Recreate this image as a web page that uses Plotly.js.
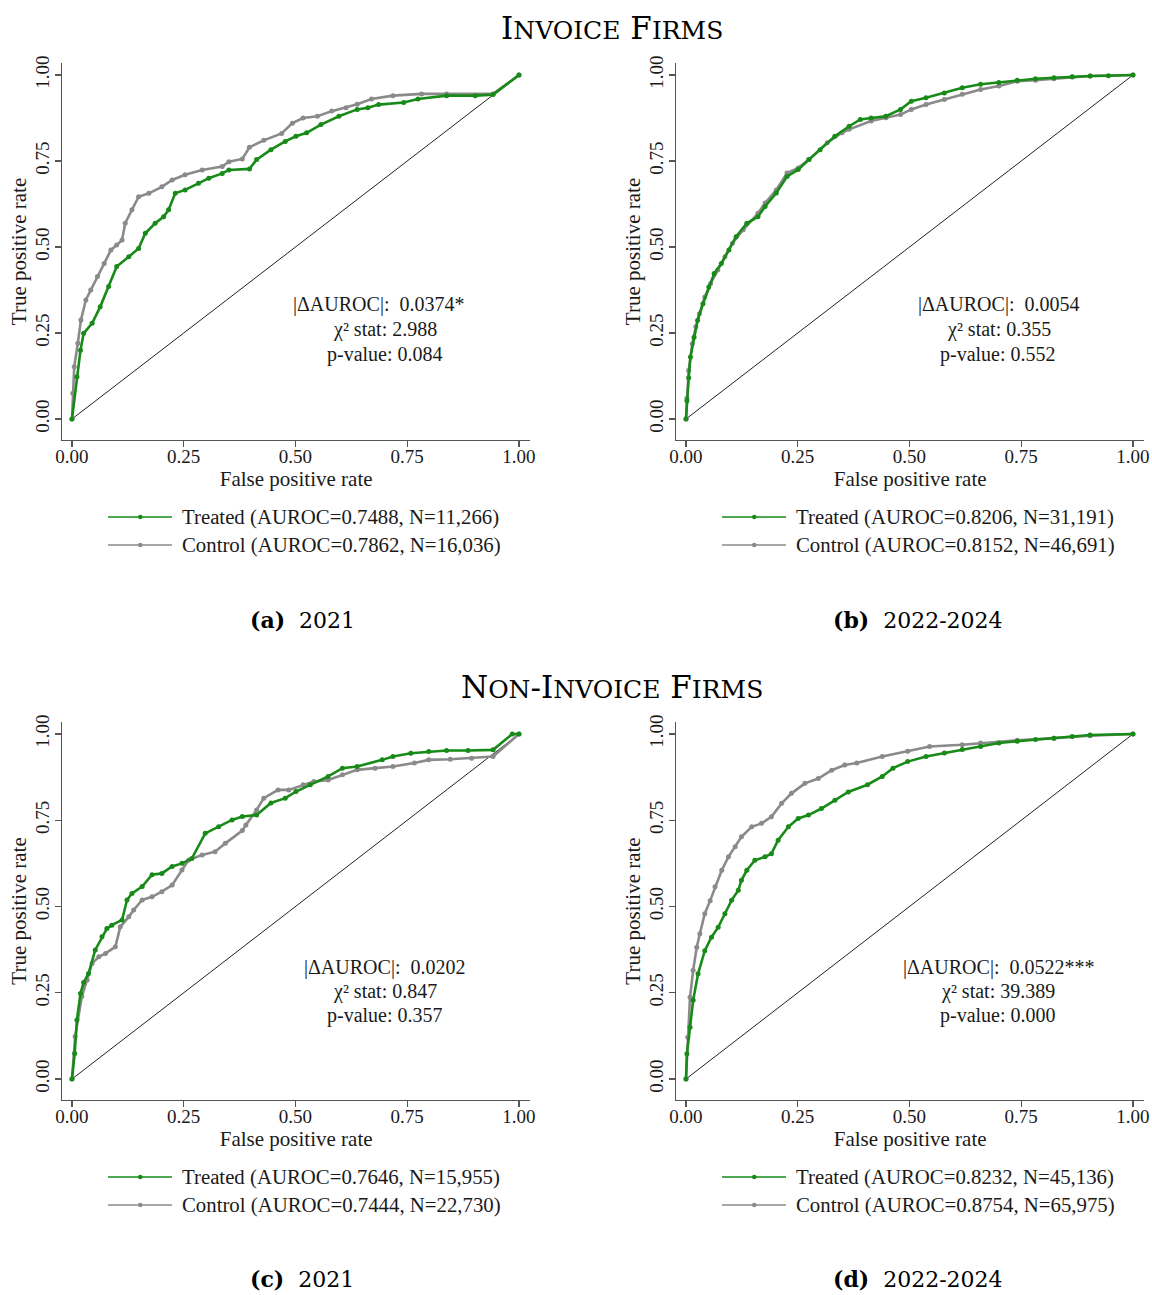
<!DOCTYPE html>
<html>
<head>
<meta charset="utf-8">
<script src="https://cdn.plot.ly/plotly-3.0.1.min.js"></script>
<style>
  html, body { margin: 0; padding: 0; background: #fff; }
  #chart { width: 1152px; height: 1295px; }
</style>
</head>
<body>
<div id="chart"></div>
<script>
// ROC curves: treated vs control firms, by invoice status and period.

// (a) Invoice firms, 2021
const aTreatedFPR = [0, 0.011, 0.019, 0.026, 0.045, 0.063, 0.082, 0.1, 0.127, 0.149, 0.164, 0.186, 0.205, 0.216, 0.231, 0.253, 0.283, 0.306, 0.336, 0.351, 0.397, 0.413, 0.445, 0.477, 0.501, 0.525, 0.557, 0.597, 0.638, 0.662, 0.686, 0.742, 0.774, 0.838, 0.902, 0.942, 1];
const aTreatedTPR = [0, 0.123, 0.2, 0.249, 0.278, 0.326, 0.385, 0.443, 0.472, 0.496, 0.54, 0.569, 0.588, 0.608, 0.656, 0.666, 0.685, 0.7, 0.714, 0.724, 0.727, 0.754, 0.783, 0.807, 0.822, 0.832, 0.856, 0.88, 0.9, 0.905, 0.914, 0.92, 0.93, 0.94, 0.94, 0.943, 1];
const aControlFPR = [0, 0.002, 0.005, 0.013, 0.02, 0.031, 0.042, 0.057, 0.072, 0.087, 0.1, 0.112, 0.119, 0.134, 0.149, 0.172, 0.201, 0.224, 0.253, 0.291, 0.336, 0.351, 0.381, 0.397, 0.429, 0.469, 0.493, 0.517, 0.549, 0.581, 0.613, 0.638, 0.67, 0.718, 0.782, 0.838, 0.942, 1];
const aControlTPR = [0, 0.075, 0.152, 0.22, 0.288, 0.346, 0.375, 0.414, 0.452, 0.491, 0.506, 0.52, 0.569, 0.608, 0.646, 0.656, 0.675, 0.695, 0.71, 0.724, 0.734, 0.748, 0.756, 0.79, 0.81, 0.83, 0.86, 0.875, 0.88, 0.895, 0.905, 0.915, 0.93, 0.94, 0.945, 0.945, 0.945, 1];

// (b) Invoice firms, 2022-2024
const bTreatedFPR = [0, 0.002, 0.006, 0.01, 0.018, 0.026, 0.038, 0.051, 0.063, 0.079, 0.096, 0.112, 0.136, 0.161, 0.177, 0.202, 0.226, 0.251, 0.275, 0.3, 0.333, 0.365, 0.39, 0.414, 0.447, 0.48, 0.504, 0.537, 0.578, 0.618, 0.659, 0.7, 0.741, 0.782, 0.823, 0.864, 0.904, 0.945, 1];
const bTreatedTPR = [0, 0.053, 0.12, 0.18, 0.238, 0.287, 0.335, 0.384, 0.423, 0.452, 0.491, 0.53, 0.569, 0.588, 0.618, 0.657, 0.705, 0.725, 0.754, 0.783, 0.822, 0.851, 0.871, 0.875, 0.88, 0.9, 0.924, 0.934, 0.948, 0.963, 0.973, 0.978, 0.985, 0.989, 0.992, 0.995, 0.997, 0.998, 1];
const bControlFPR = [0, 0.002, 0.006, 0.014, 0.022, 0.03, 0.042, 0.055, 0.071, 0.087, 0.104, 0.128, 0.161, 0.177, 0.202, 0.226, 0.251, 0.275, 0.316, 0.349, 0.365, 0.414, 0.447, 0.48, 0.504, 0.537, 0.578, 0.618, 0.659, 0.7, 0.741, 0.782, 0.823, 0.864, 0.904, 1];
const bControlTPR = [0, 0.06, 0.141, 0.219, 0.268, 0.306, 0.355, 0.394, 0.433, 0.472, 0.511, 0.55, 0.598, 0.628, 0.666, 0.715, 0.73, 0.754, 0.803, 0.832, 0.842, 0.866, 0.876, 0.885, 0.9, 0.914, 0.929, 0.944, 0.958, 0.968, 0.982, 0.985, 0.989, 0.994, 0.997, 1];

// (c) Non-invoice firms, 2021
const cTreatedFPR = [0, 0.006, 0.011, 0.019, 0.026, 0.037, 0.052, 0.067, 0.078, 0.089, 0.112, 0.123, 0.134, 0.157, 0.179, 0.201, 0.224, 0.246, 0.268, 0.298, 0.328, 0.358, 0.381, 0.413, 0.445, 0.477, 0.501, 0.533, 0.573, 0.605, 0.638, 0.694, 0.718, 0.758, 0.798, 0.838, 0.886, 0.942, 0.985, 1];
const cTreatedTPR = [0, 0.074, 0.171, 0.248, 0.28, 0.306, 0.374, 0.412, 0.436, 0.446, 0.461, 0.519, 0.538, 0.558, 0.592, 0.596, 0.616, 0.625, 0.639, 0.712, 0.731, 0.751, 0.761, 0.765, 0.8, 0.814, 0.833, 0.853, 0.877, 0.901, 0.906, 0.925, 0.935, 0.944, 0.949, 0.952, 0.952, 0.954, 1, 1];
const cControlFPR = [0, 0.007, 0.022, 0.034, 0.045, 0.06, 0.075, 0.097, 0.108, 0.127, 0.138, 0.157, 0.179, 0.201, 0.224, 0.246, 0.261, 0.291, 0.32, 0.343, 0.381, 0.389, 0.413, 0.429, 0.461, 0.485, 0.517, 0.541, 0.573, 0.605, 0.638, 0.678, 0.718, 0.766, 0.798, 0.846, 0.894, 0.942, 1];
const cControlTPR = [0, 0.123, 0.239, 0.287, 0.335, 0.354, 0.364, 0.383, 0.441, 0.47, 0.49, 0.519, 0.528, 0.543, 0.562, 0.606, 0.635, 0.649, 0.659, 0.683, 0.72, 0.736, 0.78, 0.814, 0.838, 0.838, 0.853, 0.862, 0.867, 0.882, 0.896, 0.901, 0.906, 0.916, 0.925, 0.927, 0.93, 0.935, 1];

// (d) Non-invoice firms, 2022-2024
const dTreatedFPR = [0, 0.002, 0.009, 0.016, 0.027, 0.042, 0.057, 0.072, 0.087, 0.102, 0.117, 0.124, 0.136, 0.154, 0.177, 0.191, 0.206, 0.229, 0.251, 0.274, 0.303, 0.333, 0.363, 0.406, 0.439, 0.463, 0.496, 0.537, 0.578, 0.618, 0.659, 0.7, 0.741, 0.782, 0.823, 0.864, 0.904, 1];
const dTreatedTPR = [0, 0.073, 0.15, 0.228, 0.305, 0.372, 0.411, 0.44, 0.479, 0.518, 0.547, 0.576, 0.605, 0.634, 0.644, 0.653, 0.692, 0.731, 0.755, 0.765, 0.784, 0.808, 0.832, 0.853, 0.877, 0.901, 0.92, 0.935, 0.945, 0.955, 0.964, 0.974, 0.979, 0.984, 0.988, 0.993, 0.997, 1];
const dControlFPR = [0, 0.004, 0.009, 0.016, 0.024, 0.031, 0.042, 0.054, 0.065, 0.08, 0.095, 0.11, 0.124, 0.147, 0.169, 0.191, 0.214, 0.236, 0.266, 0.296, 0.326, 0.355, 0.382, 0.439, 0.496, 0.545, 0.618, 0.659, 0.741, 0.823, 0.904, 1];
const dControlTPR = [0, 0.121, 0.237, 0.315, 0.382, 0.421, 0.479, 0.517, 0.557, 0.605, 0.644, 0.673, 0.702, 0.731, 0.741, 0.76, 0.799, 0.828, 0.857, 0.871, 0.895, 0.91, 0.916, 0.935, 0.95, 0.964, 0.969, 0.974, 0.982, 0.988, 0.995, 1];

// Summary statistics per panel (a, b, c, d)
const panelLetters = ["a", "b", "c", "d"];
const periods = ["2021", "2022-2024", "2021", "2022-2024"];
const treatedAUROC = ["0.7488", "0.8206", "0.7646", "0.8232"];
const treatedN = ["11,266", "31,191", "15,955", "45,136"];
const controlAUROC = ["0.7862", "0.8152", "0.7444", "0.8754"];
const controlN = ["16,036", "46,691", "22,730", "65,975"];
const deltaAUROC = ["0.0374*", "0.0054", "0.0202", "0.0522***"];
const chi2Stat = ["2.988", "0.355", "0.847", "39.389"];
const pValue = ["0.084", "0.552", "0.357", "0.000"];
const sectionTitles = ["Invoice Firms", "Non-Invoice Firms"];

const curves = [
  [aTreatedFPR, aTreatedTPR, aControlFPR, aControlTPR],
  [bTreatedFPR, bTreatedTPR, bControlFPR, bControlTPR],
  [cTreatedFPR, cTreatedTPR, cControlFPR, cControlTPR],
  [dTreatedFPR, dTreatedTPR, dControlFPR, dControlTPR]
];

// ---- layout geometry (pixels on a 1152 x 1295 page) ----
const W = 1152, H = 1295;
const px = v => v / W;
const py = v => 1 - v / H;
const XR = [-0.022, 1.025], YR = [-0.061, 1.035];
// origin of each panel (pixel position of data point 0,0) and unit sizes
const geo = [
  {ox: 72,  oy: 419,  sx: 447, sy: 344},
  {ox: 686, oy: 419,  sx: 447, sy: 344},
  {ox: 72,  oy: 1079, sx: 447, sy: 345},
  {ox: 686, oy: 1079, sx: 447, sy: 345}
];

const GREEN = "#178a17", GREY = "#8a8a8a";
const SERIF = "Liberation Serif, Times New Roman, serif";
const CMFONT = "DejaVu Serif, serif";
const TXT = "#1a1a1a";

const traces = [];
const layout = {
  width: W, height: H,
  margin: {l: 0, r: 0, t: 0, b: 0},
  paper_bgcolor: "#fff", plot_bgcolor: "#fff",
  showlegend: false,
  annotations: [], shapes: []
};

geo.forEach((g, i) => {
  const n = i + 1;
  const xa = n === 1 ? "x" : "x" + n;
  const ya = n === 1 ? "y" : "y" + n;
  const [tf, tt, cf, ct] = curves[i];

  // 45-degree reference line
  traces.push({x: [0, 1], y: [0, 1], xaxis: xa, yaxis: ya, mode: "lines",
    line: {color: "#222", width: 1}, hoverinfo: "skip"});
  traces.push({x: cf, y: ct, xaxis: xa, yaxis: ya, mode: "lines+markers",
    name: "Control (AUROC=" + controlAUROC[i] + ", N=" + controlN[i] + ")",
    line: {color: GREY, width: 2.6}, marker: {color: GREY, size: 5}});
  traces.push({x: tf, y: tt, xaxis: xa, yaxis: ya, mode: "lines+markers",
    name: "Treated (AUROC=" + treatedAUROC[i] + ", N=" + treatedN[i] + ")",
    line: {color: GREEN, width: 2.6}, marker: {color: GREEN, size: 5}});

  const xdom = [px(g.ox + XR[0] * g.sx), px(g.ox + XR[1] * g.sx)];
  const ydom = [py(g.oy - YR[0] * g.sy), py(g.oy - YR[1] * g.sy)];
  const common = {
    showline: true, linecolor: "#555", linewidth: 1.3,
    ticks: "outside", ticklen: 6, tickcolor: "#555", tickwidth: 1.2,
    tickvals: [0, 0.25, 0.5, 0.75, 1], tickformat: ".2f",
    showgrid: false, zeroline: false, fixedrange: true,
    tickfont: {family: SERIF, size: 19, color: TXT}
  };
  layout["xaxis" + (n === 1 ? "" : n)] = Object.assign({}, common, {
    domain: xdom, range: XR, anchor: ya, ticklabelstandoff: -7,
    title: {text: "False positive rate", font: {family: SERIF, size: 21, color: TXT}, standoff: 2}
  });
  layout["yaxis" + (n === 1 ? "" : n)] = Object.assign({}, common, {
    domain: ydom, range: YR, anchor: xa, tickangle: -90, ticklabelstandoff: -2,
    title: {text: "True positive rate", font: {family: SERIF, size: 21, color: TXT}, standoff: 0}
  });

  // statistics text
  const statX = [[378, 385, 385], [998, 999, 998], [384, 385, 385], [998, 998, 998]][i];
  const statY = i < 2 ? [305, 330, 354] : [967, 991, 1015];
  const statLines = [
    "|ΔAUROC|:\u00A0 " + deltaAUROC[i],
    "χ² stat: " + chi2Stat[i],
    "p-value: " + pValue[i]
  ];
  statLines.forEach((t, k) => {
    layout.annotations.push({text: t, xref: "paper", yref: "paper",
      x: px(statX[k]), y: py(statY[k]), xanchor: "center", yanchor: "middle",
      showarrow: false, font: {family: SERIF, size: 20, color: TXT}});
  });

  // legend below each panel
  const lx = i % 2 === 0 ? 108 : 722;
  const ly = i < 2 ? 517 : 1177;
  [[GREEN, "Treated (AUROC=" + treatedAUROC[i] + ", N=" + treatedN[i] + ")", 0],
   [GREY, "Control (AUROC=" + controlAUROC[i] + ", N=" + controlN[i] + ")", 28]].forEach(([col, label, dy]) => {
    const yy = ly + dy;
    layout.shapes.push({type: "line", xref: "paper", yref: "paper",
      x0: px(lx), x1: px(lx + 64), y0: py(yy), y1: py(yy),
      line: {color: col, width: 1.3}});
    layout.shapes.push({type: "circle", xref: "paper", yref: "paper",
      x0: px(lx + 30), x1: px(lx + 34.5), y0: py(yy - 2.25), y1: py(yy + 2.25),
      fillcolor: col, line: {color: col, width: 0}});
    layout.annotations.push({text: label, xref: "paper", yref: "paper",
      x: px(lx + 72), y: py(yy), xanchor: "left", yanchor: "middle",
      showarrow: false, font: {family: SERIF, size: 20.8, color: TXT}});
  });

  // sub-figure caption
  const capX = i % 2 === 0 ? 302 : 918;
  const capY = i < 2 ? 620 : 1279;
  layout.annotations.push({text: "<b>(" + panelLetters[i] + ")</b>\u00A0 " + periods[i],
    xref: "paper", yref: "paper", x: px(capX), y: py(capY),
    xanchor: "center", yanchor: "middle", showarrow: false,
    font: {family: CMFONT, size: 22, color: "#000"}});
});

// section headings in small capitals
function smallCaps(s) {
  return s.split(" ").map(w => {
    const parts = w.split("-").map(p => p[0] + '<span style="font-size:25px">' + p.slice(1).toUpperCase() + "</span>");
    return parts.join("-");
  }).join(" ");
}
[[28, sectionTitles[0]], [687, sectionTitles[1]]].forEach(([y, t]) => {
  layout.annotations.push({text: smallCaps(t), xref: "paper", yref: "paper",
    x: px(612), y: py(y), xanchor: "center", yanchor: "middle", showarrow: false,
    font: {family: CMFONT, size: 31, color: "#000"}});
});

Plotly.newPlot("chart", traces, layout, {staticPlot: true, displayModeBar: false});
</script>
</body>
</html>
